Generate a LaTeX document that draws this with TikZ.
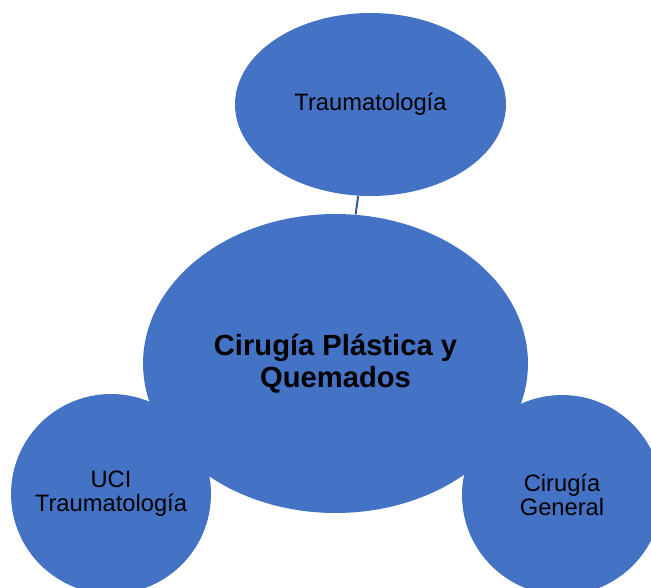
\documentclass[tikz,border=0pt]{standalone}
\usepackage{fontspec}
\setmainfont{Liberation Sans}
\usetikzlibrary{shapes.geometric}
\definecolor{areablue}{HTML}{4472C4}
\definecolor{linkblue}{HTML}{2F5597}

\begin{document}
\begin{tikzpicture}[x=0.02cm, y=-0.02cm,
  area/.style={ellipse, fill=areablue, inner sep=0pt, align=center},
  spot/.style={circle, fill=areablue, inner sep=0pt, align=center, minimum size=4cm,
    font=\fontsize{13.5}{13.7}\selectfont},
  link/.style={draw=linkblue, line width=1.1pt}]
  \useasboundingbox (0,0) rectangle (651,587);
  \clip (0,0) rectangle (651,587);

  \node[area, minimum width=5.42cm, minimum height=3.66cm,
    font=\fontsize{13.5}{15}\selectfont] (trauma) at (370.5,104.5) {Traumatología};
  \node[area, minimum width=7.7cm, minimum height=5.98cm,
    font=\fontsize{16.6}{18.2}\selectfont\bfseries] (plastica) at (335.5,363.5)
    {Cirugía Plástica y\\Quemados};
  \node[spot] (uci) at (111,494) {UCI\\Traumatología};
  \node[spot] (general) at (562,495) {Cirugía\\General};

  \draw[link] (trauma) -- (plastica);
\end{tikzpicture}
\end{document}
